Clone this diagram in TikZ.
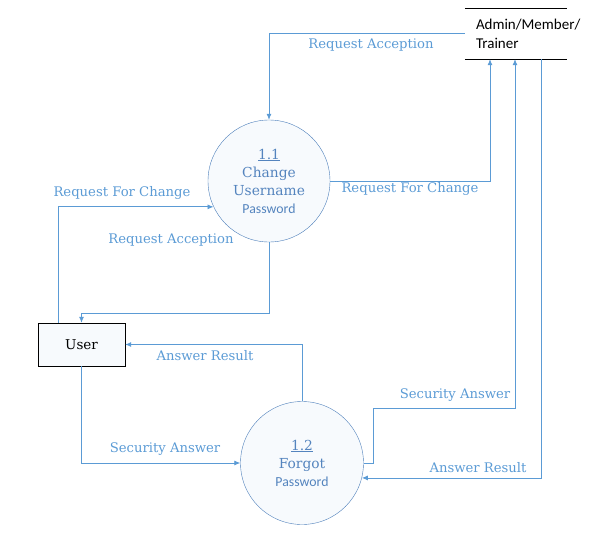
\documentclass[tikz,border=0pt]{standalone}
\usepackage{fontspec}
\setmainfont{DejaVu Serif}
\newfontfamily\calib{Carlito}
\usetikzlibrary{positioning,arrows.meta}
\definecolor{flowblue}{RGB}{91,155,213}
\definecolor{procblue}{RGB}{76,126,186}
\definecolor{proctext}{RGB}{84,132,190}

\begin{document}
\begin{tikzpicture}[x=1pt,y=-1pt,
    process/.style={circle,draw=procblue,fill=flowblue!5,minimum size=122pt,inner sep=0pt,align=center,text=proctext,font=\fontsize{13.8}{18}\selectfont},
    entity/.style={rectangle,draw=black,fill=flowblue!5,minimum width=87pt,minimum height=43pt,font=\fontsize{13.5}{16}\selectfont},
    flow/.style={draw=flowblue,line width=.8pt,-{Latex[length=6pt,width=5pt]}},
    lbl/.style={text=flowblue,font=\fontsize{13.2}{15}\selectfont,inner sep=1pt}]
		\useasboundingbox (0,0) rectangle (599,551);

		% data store
		\node[minimum width=102pt,minimum height=51pt,inner xsep=11pt,inner ysep=0pt,text width=80pt,align=left,font=\calib\fontsize{15}{19}\selectfont] (store) at (516,33.5) {Admin/Member/\\Trainer};
		\draw (store.north west) -- (store.north east);
		\draw (store.south west) -- (store.south east);

		% processes and entity
		\node[process] (p11) at (269,181) {\underline{1.1}\\Change\\Username\\{\calib Password}};
		\node[process,minimum size=123pt] (p12) at (302,463) {\underline{1.2}\\Forgot\\{\calib Password}};
		\node[entity] (user) at (81.5,344.5) {User};

		% flows store <-> 1.1
		\draw[flow] (store.west) -| (p11.north);
		\draw[flow] (p11.east) -| ([xshift=-26pt]store.south);

		% flows user <-> 1.1
		\draw[flow] ([xshift=-23.5pt]user.north) |- (p11.205);
		\draw[flow] (p11.south) |- ([yshift=9pt]user.north) -- (user.north);

		% flows user <-> 1.2
		\draw[flow] (p12.north) |- (user.east);
		\draw[flow] (user.south) |- (p12.west);

		% flows store <-> 1.2
		\draw[flow] (p12.east) -- ++(10,0) -- ++(0,-55) -| ([xshift=-1pt]store.south);
		\draw[flow] ([xshift=25pt]store.south) |- (p12.-14);

		% labels
		\node[lbl] (lacc1) at (371,45) {Request Acception};
		\node[lbl] (lchg1) at (410,189) {Request For Change};
		\node[lbl] (lchg2) at (122,193) {Request For Change};
		\node[lbl] (lacc2) at (171,240) {Request Acception};
		\node[lbl] (lres1) at (205,356) {Answer Result};
		\node[lbl] (lsec1) at (165,449) {Security Answer};
		\node[lbl] (lsec2) at (455,395) {Security Answer};
		\node[lbl] (lres2) at (478,468) {Answer Result};

\end{tikzpicture}
\end{document}
